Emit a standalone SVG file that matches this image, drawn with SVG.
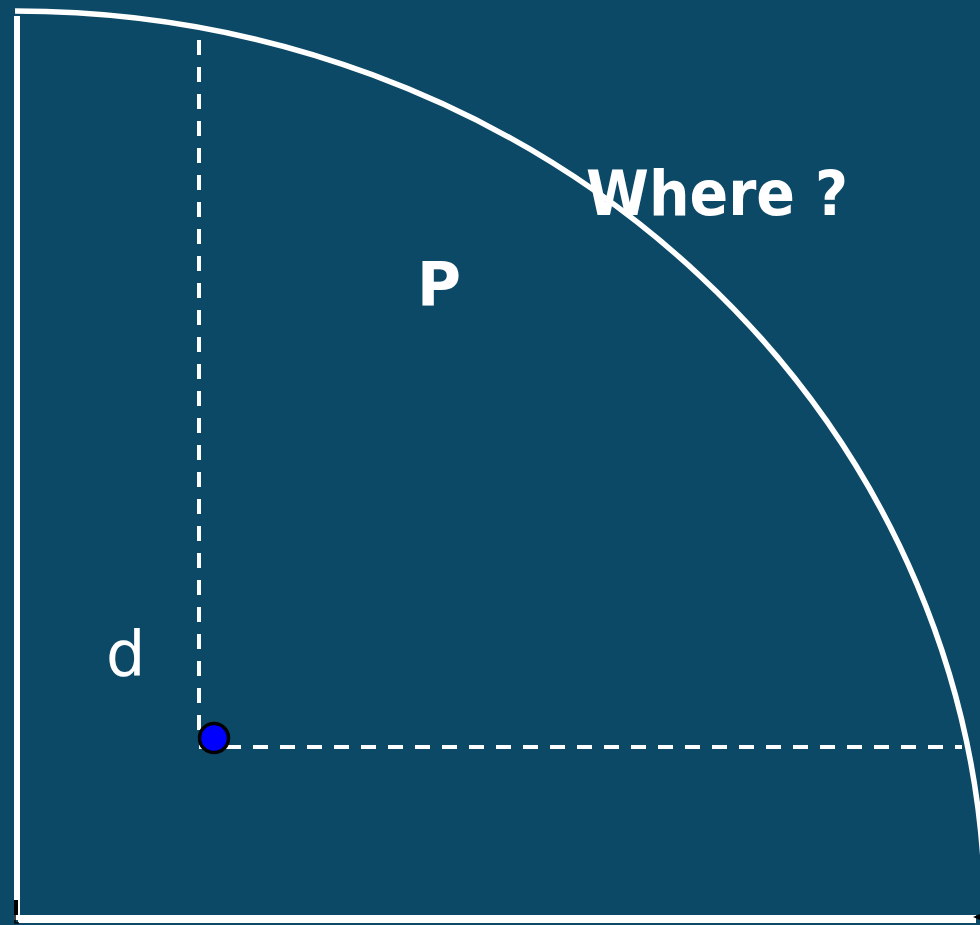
<svg xmlns="http://www.w3.org/2000/svg" width="980" height="925" viewBox="0 0 980 925">
<style>
.dash{stroke:#fff;stroke-width:4;stroke-dasharray:15 12;fill:none}
.lbl{fill:#fff;font-family:"DejaVu Sans",Verdana,sans-serif}
</style>
<rect width="980" height="925" fill="#0C4967"/>
<g id="connectors">
<path d="M15 11 A970 907 0 0 1 985 918" fill="none" stroke="#fff" stroke-width="5.5"/>
<line x1="17" y1="16" x2="17" y2="920" stroke="#fff" stroke-width="6"/>
<line x1="18" y1="919" x2="976" y2="919" stroke="#fff" stroke-width="8"/>
<rect x="14" y="900" width="4" height="15" fill="#000"/>
<path d="M15 915 V923 H19" fill="none" stroke="#000" stroke-width="1.5"/>
<path d="M980 914 L973 917 L980 920 Z" fill="#000"/>
<line class="dash" x1="199" y1="40" x2="199" y2="738"/>
<line class="dash" x1="199" y1="747" x2="962" y2="747"/>
</g>
<g id="point">
<circle cx="214" cy="738" r="14.5" fill="#0000FF" stroke="#000" stroke-width="3.5"/>
</g>
<g id="label-where"><text class="lbl" x="586" y="215" font-size="62" font-weight="bold" textLength="262" lengthAdjust="spacingAndGlyphs">Where ?</text></g>
<g id="label-p"><text class="lbl" x="417" y="305" font-size="60" font-weight="bold">P</text></g>
<g id="label-d"><text class="lbl" x="106" y="675" font-size="62">d</text></g>
</svg>
